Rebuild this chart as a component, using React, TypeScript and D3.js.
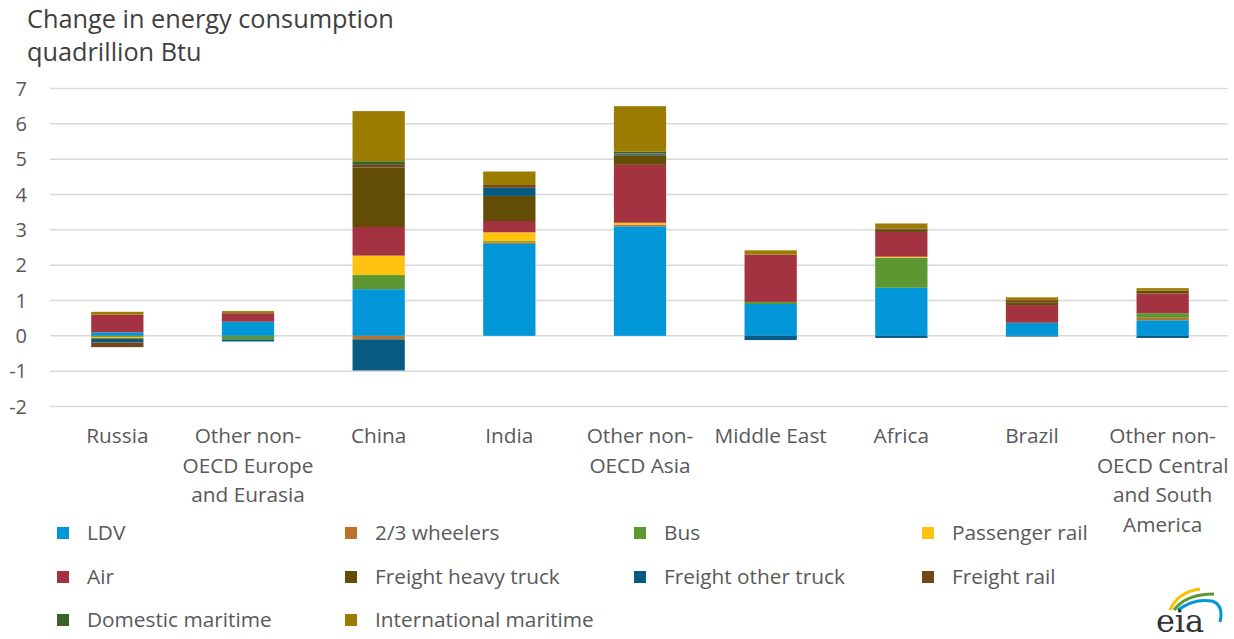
import React from 'react';
import * as d3 from 'd3';

const regions = [
  'Russia',
  'Other non-OECD Europe and Eurasia',
  'China',
  'India',
  'Other non-OECD Asia',
  'Middle East',
  'Africa',
  'Brazil',
  'Other non-OECD Central and South America',
];

const regionLines = [
  ['Russia'],
  ['Other non-', 'OECD Europe', 'and Eurasia'],
  ['China'],
  ['India'],
  ['Other non-', 'OECD Asia'],
  ['Middle East'],
  ['Africa'],
  ['Brazil'],
  ['Other non-', 'OECD Central', 'and South', 'America'],
];

const seriesNames = [
  'LDV',
  '2/3 wheelers',
  'Bus',
  'Passenger rail',
  'Air',
  'Freight heavy truck',
  'Freight other truck',
  'Freight rail',
  'Domestic maritime',
  'International maritime',
];

const seriesColors = [
  '#0096d7',
  '#bd732a',
  '#5d9732',
  '#ffc20e',
  '#a33340',
  '#634d05',
  '#075a82',
  '#74471b',
  '#3b6227',
  '#9b7b00',
];

// one value per region, same order as `regions`
const ldv = [0.1, 0.4, 1.32, 2.6, 3.1, 0.9, 1.36, 0.37, 0.44];
const wheelers = [0, 0, -0.1, 0.04, 0.05, 0, 0, 0, 0.07];
const bus = [-0.03, -0.1, 0.4, 0.04, 0, 0.06, 0.85, 0, 0.13];
const passengerRail = [-0.04, 0, 0.55, 0.25, 0.05, 0, 0.03, 0, 0];
const air = [0.5, 0.24, 0.81, 0.32, 1.64, 1.34, 0.7, 0.5, 0.56];
const freightHeavyTruck = [-0.02, 0, 1.68, 0.71, 0.27, 0, 0.06, 0.08, 0.08];
const freightOtherTruck = [-0.1, -0.06, -0.88, 0.23, 0.03, -0.12, -0.06, -0.02, -0.06];
const freightRail = [-0.13, 0, 0.08, 0.08, 0.02, 0, 0.04, 0.06, 0];
const domesticMaritime = [0, 0, 0.1, 0, 0.05, 0, 0, 0, 0];
const internationalMaritime = [0.08, 0.06, 1.42, 0.38, 1.29, 0.12, 0.14, 0.08, 0.07];

const yTicks = [7, 6, 5, 4, 3, 2, 1, 0, -1, -2];

const W = 1234;
const H = 639;
const FONT = '"Open Sans", Lato, sans-serif';

export default function App() {
  const allSeries = [
    ldv, wheelers, bus, passengerRail, air,
    freightHeavyTruck, freightOtherTruck, freightRail, domesticMaritime, internationalMaritime,
  ];

  const rows = regions.map((r, i) => {
    const row: Record<string, any> = { region: r };
    seriesNames.forEach((s, j) => (row[s] = allSeries[j][i]));
    return row;
  });

  const stacked = d3
    .stack<any>()
    .keys(seriesNames)
    .offset(d3.stackOffsetDiverging)(rows);

  const x = d3.scaleBand().domain(regions).range([52, 1228]).paddingInner(0.6).paddingOuter(0.3);
  const y = d3.scaleLinear().domain([-2, 7]).range([406.5, 88.5]);

  const legendCols = [57, 345, 634, 922];
  const legendRows = [533, 577, 620];

  return (
    <svg
      width={W}
      height={H}
      style={{ position: 'absolute', left: 0, top: 0, background: '#fff' }}
      fontFamily={FONT}
    >
      <text x={27} y={28} fontSize={25.3} fill="#404040">Change in energy consumption</text>
      <text x={27} y={61} fontSize={25.3} fill="#404040">quadrillion Btu</text>

      {yTicks.map((t) => (
        <g key={t}>
          <line x1={50} x2={1228} y1={y(t)} y2={y(t)} stroke="#d9d9d9" strokeWidth={1.5} />
          <text x={27} y={y(t)} dy="0.35em" textAnchor="end" fontSize={20} fill="#595959">
            {t}
          </text>
        </g>
      ))}

      {stacked.map((layer, j) => (
        <g key={layer.key} fill={seriesColors[j]}>
          {layer.map((d, i) => {
            const h = Math.abs(y(d[0]) - y(d[1]));
            if (h < 0.01) return null;
            return (
              <rect
                key={i}
                x={x(regions[i])}
                y={Math.min(y(d[0]), y(d[1]))}
                width={x.bandwidth()}
                height={h}
              />
            );
          })}
        </g>
      ))}

      {regionLines.map((lines, i) => (
        <text
          key={i}
          x={(x(regions[i]) as number) + x.bandwidth() / 2}
          y={443}
          textAnchor="middle"
          fontSize={20.8}
          fill="#595959"
        >
          {lines.map((l, k) => (
            <tspan key={k} x={(x(regions[i]) as number) + x.bandwidth() / 2} dy={k === 0 ? 0 : 29.5}>
              {l}
            </tspan>
          ))}
        </text>
      ))}

      {seriesNames.map((s, j) => {
        const cx = legendCols[j % 4];
        const cy = legendRows[Math.floor(j / 4)];
        return (
          <g key={s}>
            <rect x={cx} y={cy - 6} width={12} height={12} fill={seriesColors[j]} />
            <text x={cx + 30} y={cy} dy="0.35em" fontSize={20.8} fill="#595959">
              {s}
            </text>
          </g>
        );
      })}

      <g transform="translate(1148,588)">
        <path d="M22,22 Q30,4 52,1" fill="none" stroke="#f6c200" strokeWidth={3} />
        <path d="M26,22 Q38,6 66,6" fill="none" stroke="#5d9732" strokeWidth={3} />
        <path d="M30,22 Q46,10 64,13 Q76,17 72,34" fill="none" stroke="#0096d7" strokeWidth={3} />
        <text x={32} y={44} textAnchor="middle" fontSize={32} fontFamily="'DejaVu Serif', serif" fill="#333">
          eia
        </text>
      </g>
    </svg>
  );
}
